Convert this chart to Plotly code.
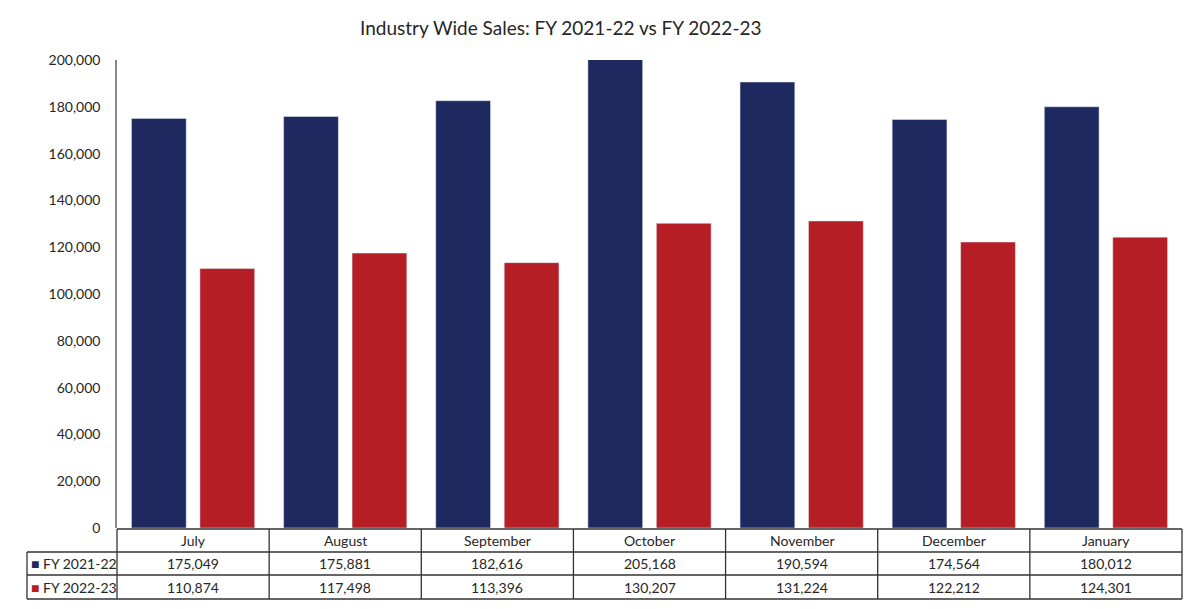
import plotly.graph_objects as go

months = ["July", "August", "September", "October", "November", "December", "January"]
fy2122 = [175049, 175881, 182616, 205168, 190594, 174564, 180012]
fy2223 = [110874, 117498, 113396, 130207, 131224, 122212, 124301]
series_names = ["FY 2021-22", "FY 2022-23"]
yticks = [0, 20000, 40000, 60000, 80000, 100000, 120000, 140000, 160000, 180000, 200000]

BLUE = "#1e2960"
RED = "#b51e24"
FONT = "Lato, 'Open Sans', sans-serif"
TXT = "#262626"

# page body has an 8px margin; figure is offset by (8, 8) in the window
OFF = 8
W, H = 1200 - OFF, 609 - OFF
L, R, T, B = 117 - OFF, 18, 60 - OFF, 81
pw, ph = W - L - R, H - T - B

def py(px):  # window pixel y -> paper y
    return (H - B - (px - OFF)) / ph

def pxp(px):  # window pixel x -> paper x
    return ((px - OFF) - L) / pw

fig = go.Figure()
fig.add_trace(go.Bar(x=months, y=fy2122, name=series_names[0], marker_color=BLUE,
                     width=0.36, offset=-0.405))
fig.add_trace(go.Bar(x=months, y=fy2223, name=series_names[1], marker_color=RED,
                     width=0.36, offset=0.045))

shapes = []
line = dict(color="#333333", width=1.3)
row_y = [py(529), py(552), py(575), py(599)]
n = len(months)
shapes.append(dict(type="line", xref="paper", yref="paper", x0=0, x1=1, y0=row_y[0], y1=row_y[0], line=line))
for yy in row_y[1:]:
    shapes.append(dict(type="line", xref="paper", yref="paper", x0=pxp(27), x1=1, y0=yy, y1=yy, line=line))
for i in range(n + 1):
    shapes.append(dict(type="line", xref="paper", yref="paper", x0=i / n, x1=i / n,
                       y0=row_y[0], y1=row_y[3], line=line))
shapes.append(dict(type="line", xref="paper", yref="paper", x0=pxp(27), x1=pxp(27),
                   y0=row_y[1], y1=row_y[3], line=line))

annotations = []
row_centers = [(row_y[1] + row_y[2]) / 2, (row_y[2] + row_y[3]) / 2]
header_c = (row_y[0] + row_y[1]) / 2
for m in months:
    annotations.append(dict(x=m, y=header_c, xref="x", yref="paper", text=m,
                            xanchor="center", yanchor="middle",
                            showarrow=False, font=dict(size=14, color=TXT, family=FONT)))
for vals, yc in zip([fy2122, fy2223], row_centers):
    for m, v in zip(months, vals):
        annotations.append(dict(x=m, y=yc, xref="x", yref="paper", text=f"{v:,}",
                                xanchor="center", yanchor="middle",
                                showarrow=False, font=dict(size=14, color=TXT, family=FONT)))
for name, col, yc in zip(series_names, [BLUE, RED], row_centers):
    annotations.append(dict(x=pxp(29), y=yc, xref="paper", yref="paper",
                            xanchor="left", yanchor="middle",
                            text=f"<span style='color:{col}'>■</span> {name}",
                            showarrow=False, font=dict(size=14, color=TXT, family=FONT)))
annotations.append(dict(x=pxp(560), y=py(27), xref="paper", yref="paper",
                        xanchor="center", yanchor="middle",
                        text="Industry Wide Sales: FY 2021-22 vs FY 2022-23", showarrow=False,
                        font=dict(size=19, color=TXT, family=FONT)))

fig.update_layout(
    width=W, height=H,
    margin=dict(l=L, r=R, t=T, b=B, pad=0),
    paper_bgcolor="white", plot_bgcolor="white",
    barmode="overlay",
    showlegend=False,
    shapes=shapes,
    annotations=annotations,
    font=dict(family=FONT, color=TXT, size=14),
    xaxis=dict(type="category", range=[-0.5, n - 0.5], showgrid=False, showline=False,
               ticks="", showticklabels=False),
    yaxis=dict(range=[0, 200000], tickvals=yticks, tickformat=",", showgrid=False,
               showline=True, linecolor="#888888", linewidth=1.5, ticks="",
               ticklabelstandoff=12, tickfont=dict(size=14, color=TXT), zeroline=False),
)

fig.write_html("out.html")
